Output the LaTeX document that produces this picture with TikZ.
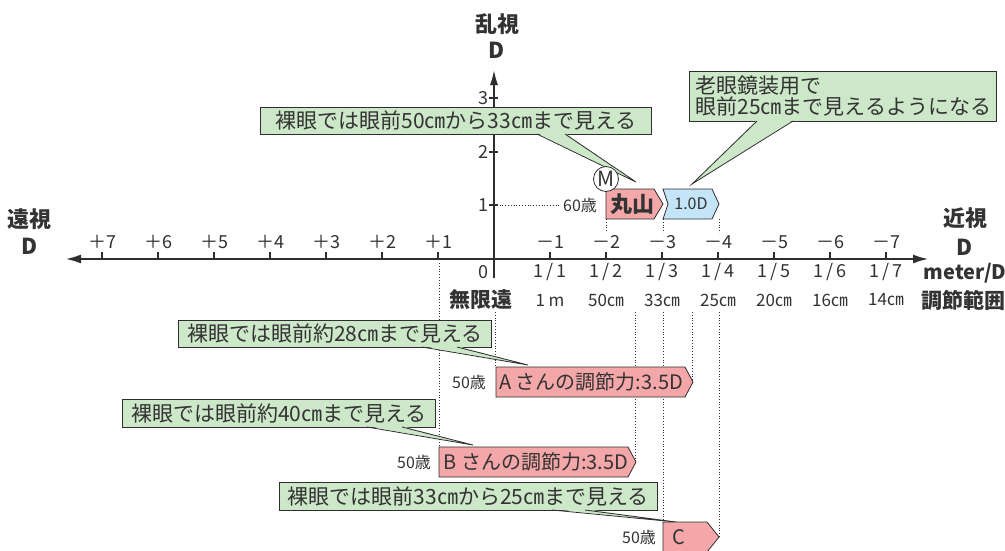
\documentclass[tikz,border=0pt]{standalone}
\usepackage{fontspec}
\setmainfont{Noto Sans CJK JP}
\usetikzlibrary{arrows.meta}
\definecolor{txt}{HTML}{333333}
\definecolor{lin}{HTML}{2E2E2E}
\definecolor{gfill}{HTML}{CDE8C9}
\definecolor{pfill}{HTML}{F4A7A9}
\definecolor{bfill}{HTML}{C3E5F7}
\tikzset{
  lbl/.style={font=\fontsize{18}{18}\selectfont, text=txt, inner sep=0pt},
  small/.style={font=\fontsize{16}{16}\selectfont, text=txt, inner sep=0pt},
  head/.style={font=\fontsize{21}{21}\selectfont\bfseries, text=txt, inner sep=0pt},
  gbox/.style={draw=lin, fill=gfill, line width=0.8pt, font=\fontsize{21}{22}\selectfont, text=txt, inner sep=0pt, anchor=north west},
  ptr/.style={fill=gfill},
  ptrline/.style={draw=lin, line width=0.8pt},
  pbox/.style={draw=lin, fill=pfill, line width=0.8pt},
  bbox/.style={draw=lin, fill=bfill, line width=0.8pt},
  ptext/.style={font=\fontsize{20}{20}\selectfont, text=txt, inner sep=0pt},
  dotl/.style={dotted, line width=0.8pt, draw=lin},
  tick/.style={line width=2pt, draw=lin},
}
\begin{document}
\begin{tikzpicture}[x=1pt,y=-1pt]
\useasboundingbox[fill=white] (0,0) rectangle (1005,550);

% dotted guide lines
\draw[dotl] (494,205) -- (560,205);
\draw[dotl] (606,219) -- (606,233);
\draw[dotl] (663,219) -- (663,233);
\draw[dotl] (719,219) -- (719,233);
\draw[dotl] (439,263) -- (439,447);
\draw[dotl] (495,312) -- (495,367);
\draw[dotl] (635,312) -- (635,462);
\draw[dotl] (663,312) -- (663,522);
\draw[dotl] (692,312) -- (692,382);
\draw[dotl] (719,312) -- (719,537);

% axes
\coordinate (hl) at (65,259);
\coordinate (hr) at (929,259);
\coordinate (vb) at (494,278);
\coordinate (vt) at (494,70);
\draw[line width=2.5pt, lin, {Latex[length=16pt,width=9pt]}-{Latex[length=16pt,width=9pt]}] (hl) -- (hr);
\draw[line width=1.6pt, lin, -{Latex[length=15pt,width=8pt]}] (vb) -- (vt);

\foreach \k in {1,...,7}{
  \draw[tick] ({494-56*\k},259) -- ({494-56*\k},252);
  \draw[tick] ({494+56*\k},259) -- ({494+56*\k},252);
  \node[lbl] (p\k) at ({494-56*\k},242) {＋\k};
  \node[lbl] (m\k) at ({494+56*\k},242) {－\k};
  \node[lbl] (f\k) at ({494+56*\k},272) {1\,/\,\k};
}
\foreach \yy/\l in {205/1,152/2,98/3}{
  \draw[line width=1.5pt, lin] (489,\yy) -- (498,\yy);
  \node[lbl] (v\l) at (483,\yy) {\l};
}
\node[lbl] (zero) at (483,272) {0};

\node[lbl, font=\fontsize{17}{17}\selectfont] (d1) at (550,300) {1 m};
\foreach \k/\d in {2/50,3/33,4/25,5/20,6/16,7/14}{
  \node[lbl, font=\fontsize{17}{17}\selectfont] (d\k) at ({494+56*\k},300) {\d㎝};
}
\node[head] (inf) at (481,300) {無限遠};
\node[head] (range) at (963,300) {調節範囲};
\node[head, font=\fontsize{20}{20}\selectfont\bfseries] (mpd) at (965,273) {meter/D};
\node[head, font=\fontsize{22}{22}\selectfont\bfseries] (kin) at (965,218) {近視};
\node[head, font=\fontsize{22}{22}\selectfont\bfseries] (kinD) at (965,247) {D};
\node[head, font=\fontsize{22}{22}\selectfont\bfseries] (en) at (30,219) {遠視};
\node[head, font=\fontsize{22}{22}\selectfont\bfseries] (enD) at (30,246) {D};
\node[head, font=\fontsize{22}{22}\selectfont\bfseries] (ran) at (497,24) {乱視};
\node[head, font=\fontsize{22}{22}\selectfont\bfseries] (ranD) at (497,50) {D};

% green callouts
\node[gbox, minimum width=391pt, minimum height=27pt] (g1) at (260,107) {裸眼では眼前50㎝から33㎝まで見える};
\fill[ptr] (537,133) -- (636,182) -- (565,133) -- cycle;
\draw[ptrline] (537,134) -- (636,182) -- (565,134);

\node[gbox, minimum width=307pt, minimum height=50pt, align=left, text width=295pt, font=\fontsize{21}{21}\selectfont] (g2) at (689,71) {老眼鏡装用で\\眼前25㎝まで見えるようになる};
\fill[ptr] (757,120) -- (692,184) -- (793,120) -- cycle;
\draw[ptrline] (757,121) -- (692,184) -- (793,121);

\node[gbox, minimum width=313pt, minimum height=27pt] (g3) at (178,320) {裸眼では眼前約28㎝まで見える};
\fill[ptr] (422,346) -- (528,365) -- (457,346) -- cycle;
\draw[ptrline] (422,347) -- (528,365) -- (457,347);

\node[gbox, minimum width=313pt, minimum height=28pt] (g4) at (122,399) {裸眼では眼前約40㎝まで見える};
\fill[ptr] (367,426) -- (473,445) -- (402,426) -- cycle;
\draw[ptrline] (367,427) -- (473,445) -- (402,427);

\node[gbox, minimum width=378pt, minimum height=28pt] (g5) at (279,482) {裸眼では眼前33㎝から25㎝まで見える};
\fill[ptr] (552,509) -- (676,522) -- (585,509) -- cycle;
\draw[ptrline] (552,510) -- (676,522) -- (585,510);

% pink / blue arrow boxes
\draw[pbox] (606,189) -- (654,189) -- (663,204) -- (654,219) -- (606,219) -- cycle;
\node[head, font=\fontsize{22}{22}\selectfont\bfseries] (maru) at (632,204) {丸山};
\draw[bbox] (663,189) -- (712,189) -- (719,204) -- (712,219) -- (663,219) -- (668,204) -- cycle;
\node[small] (oned) at (691,204) {1.0D};
\node[small] (age60) at (580,205) {60歳};

\draw[pbox] (496,367) -- (685,367) -- (693,382) -- (685,397) -- (496,397) -- cycle;
\node[ptext] (ta) at (591,382) {A さんの調節力:3.5D};
\node[small] (ageA) at (469,382) {50歳};

\draw[pbox] (439,447) -- (628,447) -- (636,462) -- (628,477) -- (439,477) -- cycle;
\node[ptext] (tb) at (536,462) {B さんの調節力:3.5D};
\node[small] (ageB) at (414,462) {50歳};

\draw[pbox] (663,522) -- (707,522) -- (719,537) -- (707,552) -- (663,552) -- cycle;
\node[ptext] (tc) at (679,537) {C};
\node[small] (ageC) at (639,537) {50歳};

% M circle
\node[circle, draw=lin, fill=white, line width=0.8pt, minimum size=25pt, inner sep=0pt, font=\fontsize{21}{21}\selectfont, text=txt] (M) at (606,179) {M};
\end{tikzpicture}
\end{document}
